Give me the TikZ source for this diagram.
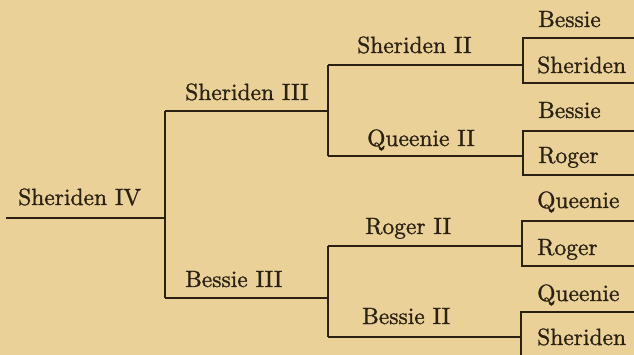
\documentclass[tikz,border=0pt]{standalone}
\usepackage{fontspec}
\newfontfamily\pedfont{lmroman10-regular.otf}[FakeBold=1.2]
\definecolor{paper}{HTML}{EAD197}
\definecolor{ink}{HTML}{2A2113}
\begin{document}
\begin{tikzpicture}[x=1pt,y=-1pt,
  lbl/.style={anchor=base west,inner sep=0pt,text=ink,font=\pedfont\fontsize{23.5}{26}\selectfont},
  ln/.style={draw=ink,line width=1.6pt}]
\fill[paper] (0,0) rectangle (634,355);
\useasboundingbox (0,0) rectangle (634,355);
% generation 4
\node[lbl] (s4) at (18,205) {Sheriden IV};
\coordinate (s4a) at (6,218);
\coordinate (s4b) at (165,218);
% generation 3
\coordinate (v3t) at (165,111);
\coordinate (v3b) at (165,298);
\node[lbl] (s3) at (185,100) {Sheriden III};
\node[lbl] (b3) at (185,287) {Bessie III};
\coordinate (s3e) at (328,111);
\coordinate (b3e) at (328,298);
% generation 2
\coordinate (v2at) at (328,65);
\coordinate (v2ab) at (328,156);
\coordinate (v2bt) at (328,246);
\coordinate (v2bb) at (328,337);
\node[lbl] (s2) at (357,53) {Sheriden II};
\node[lbl] (q2) at (367,146) {Queenie II};
\node[lbl] (r2) at (365,234) {Roger II};
\node[lbl] (b2) at (362,324) {Bessie II};
% boxes
\coordinate (k1t) at (523,38);  \coordinate (k1b) at (523,83);
\coordinate (k2t) at (523,131); \coordinate (k2b) at (523,175);
\coordinate (k3t) at (522,221); \coordinate (k3b) at (522,266);
\coordinate (k4t) at (521,312); \coordinate (k4b) at (521,356);
\node[lbl] (d1) at (538,27) {Bessie};
\node[lbl] (p1) at (537,73) {Sheriden};
\node[lbl] (d2) at (538,118) {Bessie};
\node[lbl] (p2) at (538,163) {Roger};
\node[lbl] (d3) at (537,208) {Queenie};
\node[lbl] (p3) at (537,255) {Roger};
\node[lbl] (d4) at (537,301) {Queenie};
\node[lbl] (p4) at (537,345) {Sheriden};
% lines
\draw[ln] (s4a) -- (s4b);
\draw[ln] (v3t) -- (v3b);
\draw[ln] (v3t) -- (s3e);
\draw[ln] (v3b) -- (b3e);
\draw[ln] (v2at) -- (v2ab);
\draw[ln] (v2bt) -- (v2bb);
\draw[ln] (v2at) -- (v2at -| k1t);
\draw[ln] (v2ab) -- (v2ab -| k2t);
\draw[ln] (v2bt) -- (v2bt -| k3t);
\draw[ln] (v2bb) -- (v2bb -| k4t);
\draw[ln] (k1t -| 634,0) -- (k1t) -- (k1b) -- (k1b -| 634,0);
\draw[ln] (k2t -| 634,0) -- (k2t) -- (k2b) -- (k2b -| 634,0);
\draw[ln] (k3t -| 634,0) -- (k3t) -- (k3b) -- (k3b -| 634,0);
\draw[ln] (k4t -| 634,0) -- (k4t) -- (k4b);
\end{tikzpicture}
\end{document}
